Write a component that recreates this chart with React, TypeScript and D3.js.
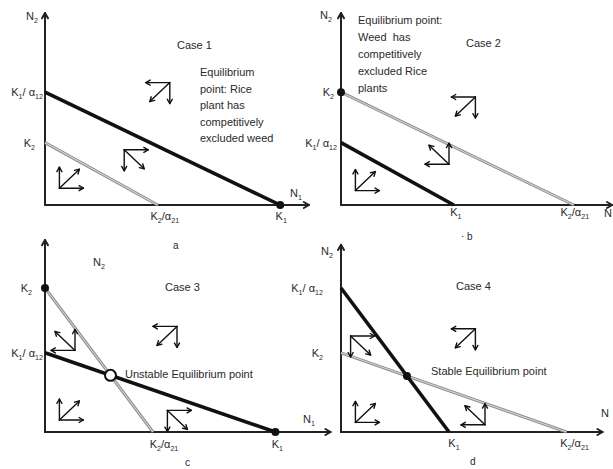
import React from "react";
import * as d3 from "d3";

// ---------- data ----------
const CASE_TITLES = ["Case 1", "Case 2", "Case 3", "Case 4"];
const PANEL_LETTERS = ["a", "· b", "c", "d"];
// Rice (N1) isocline intercepts
const RICE_N1_INTERCEPT = [98, 47, 96, 45]; // K1
const RICE_N2_INTERCEPT = [47, 26, 33, 60]; // K1/α12
// Weed (N2) isocline intercepts
const WEED_N1_INTERCEPT = [47, 97, 45, 94]; // K2/α21
const WEED_N2_INTERCEPT = [26, 47, 60, 33]; // K2
const AXIS_N1_MAX = [110, 113, 119, 109];
const AXIS_N2_MAX = [80, 80, 80, 78];
const X_AXIS_NAMES = ["N{1}", "N", "N{1}", "N"];
const DESCRIPTIONS = [
  ["Equilibrium", "point: Rice", "plant has", "competitively", "excluded weed"],
  ["Equilibrium point:", "Weed  has", "competitively", "excluded Rice", "plants"],
  ["Unstable Equilibrium point"],
  ["Stable Equilibrium point"],
];
// equilibrium markers: rice = (K1,0), weed = (0,K2), cross = isocline intersection
const EQUILIBRIA = [
  [{ at: "rice", open: false }],
  [{ at: "weed", open: false }],
  [{ at: "weed", open: false }, { at: "rice", open: false }, { at: "cross", open: true }],
  [{ at: "cross", open: false }],
];
// flow-direction clusters: [N1, N2, sign dN1/dt, sign dN2/dt]
const FLOW_ARROWS = [
  [[52, 51, -1, -1], [33, 23, 1, -1], [6, 7, 1, 1]],
  [[56, 45, -1, -1], [45, 17, -1, 1], [6, 6, 1, 1]],
  [[55, 44, -1, -1], [12.5, 34, -1, 1], [6, 5, 1, 1], [51, 9, 1, -1]],
  [[56, 43, -1, -1], [4, 40, 1, -1], [6, 4, 1, 1], [60, 3, -1, 1]],
];

// ---------- layout ----------
const W = 613;
const H = 469;
const UNIT = 2.4;
const ORIGINS = [
  [45, 205],
  [341, 205],
  [45, 432],
  [341, 432],
];
const TITLE_POS = [[177, 49], [466, 47], [165, 291], [456, 290]];
const DESC_POS = [[200, 76, 16.5], [358, 24, 17], [125, 378, 16], [431, 375, 16]];
const LETTER_POS = [[173, 249], [461, 240], [185, 466], [470, 465]];
const N2_POS = [[26, 20], [320, 19], [93, 266], [321, 255]];
const N1_POS = [[290, 197], [604, 217], [303, 423], [601, 417]];
// label offsets: [K1/a12 dx, K2 dx, K2/a21 dx, K1 dx, x-label dy]
const LABEL_OFF = [
  [-2, -10, 7, 1, 15],
  [-4, -7, 1, 2, 11],
  [-2, -13, 11, 2, 16],
  [-18, -18, 8, 5, 15],
];

const FONT = "'Liberation Sans', Arial, Helvetica, sans-serif";
const TXT = "#2a2a2a";

function Label({ x, y, s, anchor = "start", size = 11 }: any) {
  // "K{1}/ α{12}" -> braces mark subscripts
  const parts: { t: string; sub: boolean }[] = [];
  const re = /([^{}]+)|\{([^}]*)\}/g;
  let m;
  while ((m = re.exec(s))) {
    if (m[1] !== undefined) parts.push({ t: m[1], sub: false });
    else parts.push({ t: m[2], sub: true });
  }
  let shift = 0;
  return (
    <text x={x} y={y} textAnchor={anchor} fontFamily={FONT} fontSize={size} fill={TXT} style={{ whiteSpace: "pre" }}>
      {parts.map((p, i) => {
        const dy = p.sub ? 3 - shift : 0 - shift;
        shift = p.sub ? 3 : 0;
        return (
          <tspan key={i} dy={dy} fontSize={p.sub ? size * 0.65 : size}>
            {p.t}
          </tspan>
        );
      })}
    </text>
  );
}

function Arrow({ x1, y1, x2, y2, head = 5, sw = 1.4, color = "#111" }: any) {
  const a = Math.atan2(y2 - y1, x2 - x1);
  const h1 = [x2 - head * Math.cos(a - Math.PI / 6), y2 - head * Math.sin(a - Math.PI / 6)];
  const h2 = [x2 - head * Math.cos(a + Math.PI / 6), y2 - head * Math.sin(a + Math.PI / 6)];
  return (
    <g stroke={color} strokeWidth={sw} fill="none" strokeLinecap="round" strokeLinejoin="round">
      <line x1={x1} y1={y1} x2={x2} y2={y2} />
      <polyline points={`${h1[0]},${h1[1]} ${x2},${y2} ${h2[0]},${h2[1]}`} />
    </g>
  );
}

function Panel({ i }: { i: number }) {
  const [x0, y0] = ORIGINS[i];
  const xs = d3.scaleLinear().domain([0, 100]).range([x0, x0 + 100 * UNIT]);
  const ys = d3.scaleLinear().domain([0, 100]).range([y0, y0 - 100 * UNIT]);
  const a = RICE_N1_INTERCEPT[i];
  const b = RICE_N2_INTERCEPT[i];
  const c = WEED_N1_INTERCEPT[i];
  const d = WEED_N2_INTERCEPT[i];
  // intersection of x/a + y/b = 1 and x/c + y/d = 1
  const det = (1 / a) * (1 / d) - (1 / b) * (1 / c);
  const cx = (1 / d - 1 / b) / det;
  const cy = (1 / a - 1 / c) / det;
  const line = d3
    .line<[number, number]>()
    .x((p) => xs(p[0]))
    .y((p) => ys(p[1]));
  const rice: [number, number][] = [[0, b], [a, 0]];
  const weed: [number, number][] = [[0, d], [c, 0]];
  const off = LABEL_OFF[i];
  const ptOf = (k: string) => (k === "rice" ? [a, 0] : k === "weed" ? [0, d] : [cx, cy]);

  return (
    <g>
      {/* axes */}
      <Arrow x1={xs(0)} y1={ys(0)} x2={xs(0)} y2={ys(AXIS_N2_MAX[i])} sw={2} head={6} color="#222" />
      <Arrow x1={xs(0)} y1={ys(0)} x2={xs(AXIS_N1_MAX[i])} y2={ys(0)} sw={2} head={6} color="#222" />
      {/* weed isocline (grey) */}
      <path d={line(weed) || ""} stroke="#8c8c8c" strokeWidth={3} fill="none" />
      <path d={line(weed) || ""} stroke="#d4d4d4" strokeWidth={1.1} fill="none" />
      {/* rice isocline (black) */}
      <path d={line(rice) || ""} stroke="#111" strokeWidth={3.6} fill="none" />
      {/* equilibria */}
      {EQUILIBRIA[i].map((e, k) => {
        const p = ptOf(e.at);
        return e.open ? (
          <circle key={k} cx={xs(p[0])} cy={ys(p[1])} r={5.5} fill="#fff" stroke="#111" strokeWidth={2} />
        ) : (
          <circle key={k} cx={xs(p[0])} cy={ys(p[1])} r={4} fill="#111" />
        );
      })}
      {/* flow arrows */}
      {FLOW_ARROWS[i].map(([n1, n2, s1, s2], k) => {
        const ox = xs(n1);
        const oy = ys(n2);
        return (
          <g key={k}>
            <Arrow x1={ox} y1={oy} x2={ox + s1 * 24} y2={oy} />
            <Arrow x1={ox} y1={oy} x2={ox} y2={oy - s2 * 21} />
            <Arrow x1={ox} y1={oy} x2={ox + s1 * 20} y2={oy - s2 * 19} />
          </g>
        );
      })}
      {/* axis labels */}
      <Label x={xs(0) + off[0]} y={ys(b) + 4} s="K{1}/ α{12}" anchor="end" />
      <Label x={xs(0) + off[1]} y={ys(d) + 4} s="K{2}" anchor="end" />
      <Label x={xs(c) + off[2]} y={ys(0) + off[4]} s="K{2}/α{21}" anchor="middle" />
      <Label x={xs(a) + off[3]} y={ys(0) + off[4]} s="K{1}" anchor="middle" />
      <Label x={N2_POS[i][0]} y={N2_POS[i][1]} s="N{2}" />
      <Label x={N1_POS[i][0]} y={N1_POS[i][1]} s={X_AXIS_NAMES[i]} />
      {/* titles and notes */}
      <Label x={TITLE_POS[i][0]} y={TITLE_POS[i][1]} s={CASE_TITLES[i]} />
      {DESCRIPTIONS[i].map((t, k) => (
        <Label key={k} x={DESC_POS[i][0]} y={DESC_POS[i][1] + k * DESC_POS[i][2]} s={t} />
      ))}
      <Label x={LETTER_POS[i][0]} y={LETTER_POS[i][1]} s={PANEL_LETTERS[i]} size={10} />
    </g>
  );
}

export default function App() {
  return (
    <svg
      width={W}
      height={H}
      viewBox={`0 0 ${W} ${H}`}
      style={{ position: "absolute", left: 0, top: 0, background: "#fff" }}
    >
      <rect width={W} height={H} fill="#fff" />
      {CASE_TITLES.map((_, i) => (
        <Panel key={i} i={i} />
      ))}
    </svg>
  );
}
